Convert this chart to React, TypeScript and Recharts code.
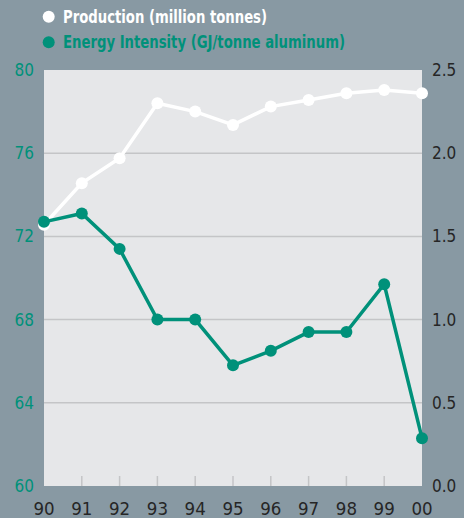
import React from 'react';
import { LineChart, Line, XAxis, YAxis, CartesianGrid, ReferenceLine } from 'recharts';

const years = ['90', '91', '92', '93', '94', '95', '96', '97', '98', '99', '00'];
const production = [1.57, 1.82, 1.97, 2.3, 2.25, 2.17, 2.28, 2.32, 2.36, 2.38, 2.36];
const energyIntensity = [72.7, 73.1, 71.4, 68.0, 68.0, 65.8, 66.5, 67.4, 67.4, 69.7, 62.3];
const leftTicks = [60, 64, 68, 72, 76, 80];
const rightTicks = [0, 0.5, 1.0, 1.5, 2.0, 2.5];
const seriesNames = ['Production (million tonnes)', 'Energy Intensity (GJ/tonne aluminum)'];

const data = years.map((y, i) => ({ year: y, production: production[i], energy: energyIntensity[i] }));

const BG = '#8899a3';
const PLOT = '#e6e7e9';
const TEAL = '#00917a';
const DARK = '#262626';
const GRID = '#c4c5c7';
const FONT = '"Liberation Sans Narrow", "DejaVu Sans Condensed", sans-serif';

const XTick = (props: any) => {
  const { x, y, payload, index } = props;
  return (
    <g>
      {index > 0 && index < years.length - 1 && (
        <line x1={x} x2={x} y1={y - 10} y2={y} stroke={GRID} strokeWidth={1.5} />
      )}
      <text x={x} y={y + 29} textAnchor="middle" fill={DARK} fontSize={18.5} fontFamily={FONT}>
        {payload.value}
      </text>
    </g>
  );
};

export default function App() {
  return (
    <div style={{ position: 'absolute', left: 0, top: 0, width: 464, height: 518, background: BG }}>
      <LineChart width={464} height={518} data={data} margin={{ top: 70, right: 0, left: 0, bottom: 0 }}>
        <CartesianGrid yAxisId="left" fill={PLOT} stroke="none" horizontal={false} vertical={false} />
        {leftTicks.slice(1, -1).map((t) => (
          <ReferenceLine key={t} yAxisId="left" y={t} stroke={GRID} strokeWidth={1.5} />
        ))}
        <XAxis
          dataKey="year"
          height={32}
          interval={0}
          axisLine={false}
          tickLine={false}
          tickSize={0}
          tickMargin={0}
          tick={<XTick />}
        />
        <YAxis
          yAxisId="left"
          width={44}
          domain={[60, 80]}
          ticks={leftTicks}
          axisLine={false}
          tickLine={false}
          tickSize={0}
          tickMargin={10}
          tick={{ fill: TEAL, fontSize: 17, fontFamily: FONT }}
        />
        <YAxis
          yAxisId="right"
          orientation="right"
          width={42}
          domain={[0, 2.5]}
          ticks={rightTicks}
          axisLine={false}
          tickLine={false}
          tickSize={0}
          tickMargin={10}
          tickFormatter={(v: number) => v.toFixed(1)}
          tick={{ fill: DARK, fontSize: 17, fontFamily: FONT }}
        />
        <Line
          yAxisId="right"
          dataKey="production"
          name={seriesNames[0]}
          stroke="#ffffff"
          strokeWidth={3.5}
          dot={{ r: 6, fill: '#ffffff', stroke: 'none' }}
          activeDot={false}
          isAnimationActive={false}
        />
        <Line
          yAxisId="left"
          dataKey="energy"
          name={seriesNames[1]}
          stroke={TEAL}
          strokeWidth={3.5}
          dot={{ r: 6, fill: TEAL, stroke: 'none' }}
          activeDot={false}
          isAnimationActive={false}
        />
      </LineChart>
      <svg width={464} height={60} style={{ position: 'absolute', left: 0, top: 0 }}>
        <circle cx={48.7} cy={16.7} r={6} fill="#ffffff" />
        <text x={63} y={22.7} fill="#ffffff" fontSize={17} fontWeight="bold" fontFamily={FONT} textLength={204} lengthAdjust="spacingAndGlyphs">
          {seriesNames[0]}
        </text>
        <circle cx={48.7} cy={42.3} r={6} fill={TEAL} />
        <text x={63} y={48.3} fill={TEAL} fontSize={17} fontWeight="bold" fontFamily={FONT} textLength={282} lengthAdjust="spacingAndGlyphs">
          {seriesNames[1]}
        </text>
      </svg>
    </div>
  );
}
